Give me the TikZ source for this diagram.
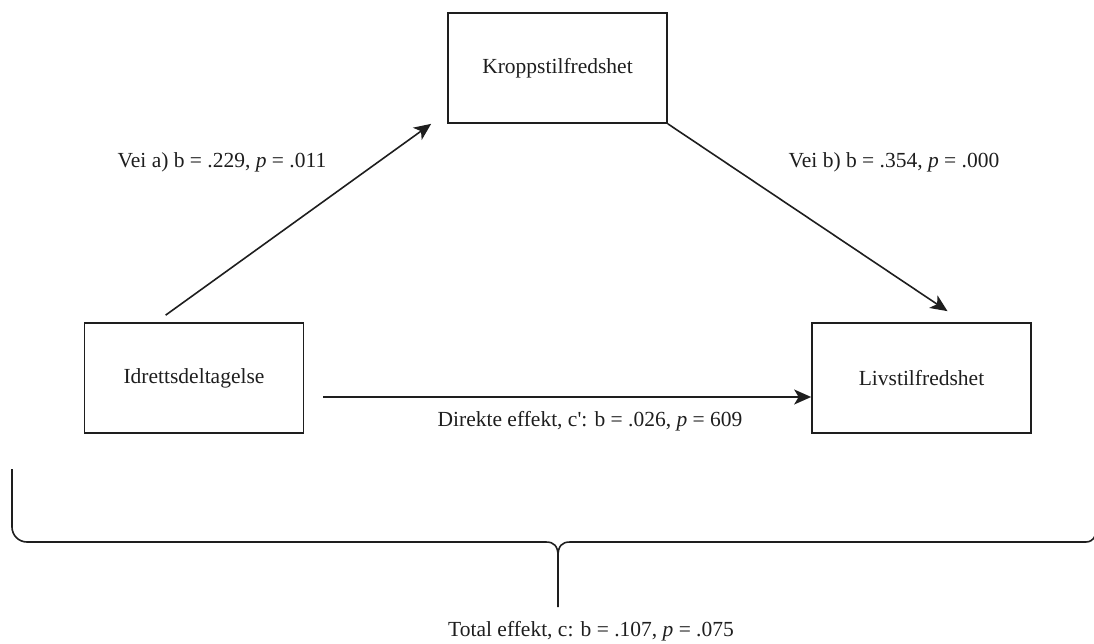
\documentclass[tikz,border=0pt]{standalone}
\usepackage{fontspec}
\setmainfont{Liberation Serif}
\usetikzlibrary{arrows.meta}
\definecolor{ink}{HTML}{1E1E1E}
\begin{document}
\begin{tikzpicture}[x=1pt,y=-1pt,
  varbox/.style={draw=ink,line width=1.7pt,minimum width=219pt,minimum height=110pt,inner sep=0pt,
    font=\fontsize{21.5}{25}\selectfont,text=ink},
  lbl/.style={font=\fontsize{21.5}{25}\selectfont,text=ink,inner sep=0pt},
  arr/.style={draw=ink,line width=1.6pt,-{Stealth[length=17pt,width=15pt,inset=4.5pt]}},
  brace/.style={draw=ink,line width=1.6pt}]
\useasboundingbox (0,0) rectangle (1094,644);

% variables
\node[varbox] (kro) at (557.5,68) {Kroppstilfredshet};
\node[varbox] (idr) at (194,378) {Idrettsdeltagelse};
\node[varbox] (liv) at (921.5,378) {Livstilfredshet};

% paths of the mediation model
\draw[arr] ([xshift=82pt,yshift=7pt]idr.north west) -- ([xshift=-16pt]kro.south west);
\draw[arr] (kro.south east) -- ([xshift=26pt,yshift=11pt]liv.north);
\draw[arr] ([xshift=19pt,yshift=-19pt]idr.east) -- ([yshift=-19pt]liv.west);

% path labels
\node[lbl] (la) at (222,162) {Vei a) b = .229, \textit{p} = .011};
\node[lbl] (lb) at (894,162) {Vei b) b = .354, \textit{p} = .000};
\node[lbl] (lc) at (590,421) {Direkte effekt, c\textquotesingle: b = .026, \textit{p} = 609};

% brace spanning the whole model
\coordinate (bl) at (12,469);
\coordinate (bm) at (558,556);
\coordinate (bt) at (558,607);
\draw[brace,rounded corners=15pt] (bl) |- (546,542);
\draw[brace] (546,542) .. controls (554,542) and (558,546) .. (bm) -- (bt);
\draw[brace] (bm) .. controls (558,546) and (562,542) .. (570,542) -- (1086,542)
  .. controls (1090,542) and (1093,540) .. (1095,536);

\node[lbl,anchor=west] (tot) at (448,631) {Total effekt, c: b = .107, \textit{p} = .075};
\end{tikzpicture}
\end{document}
